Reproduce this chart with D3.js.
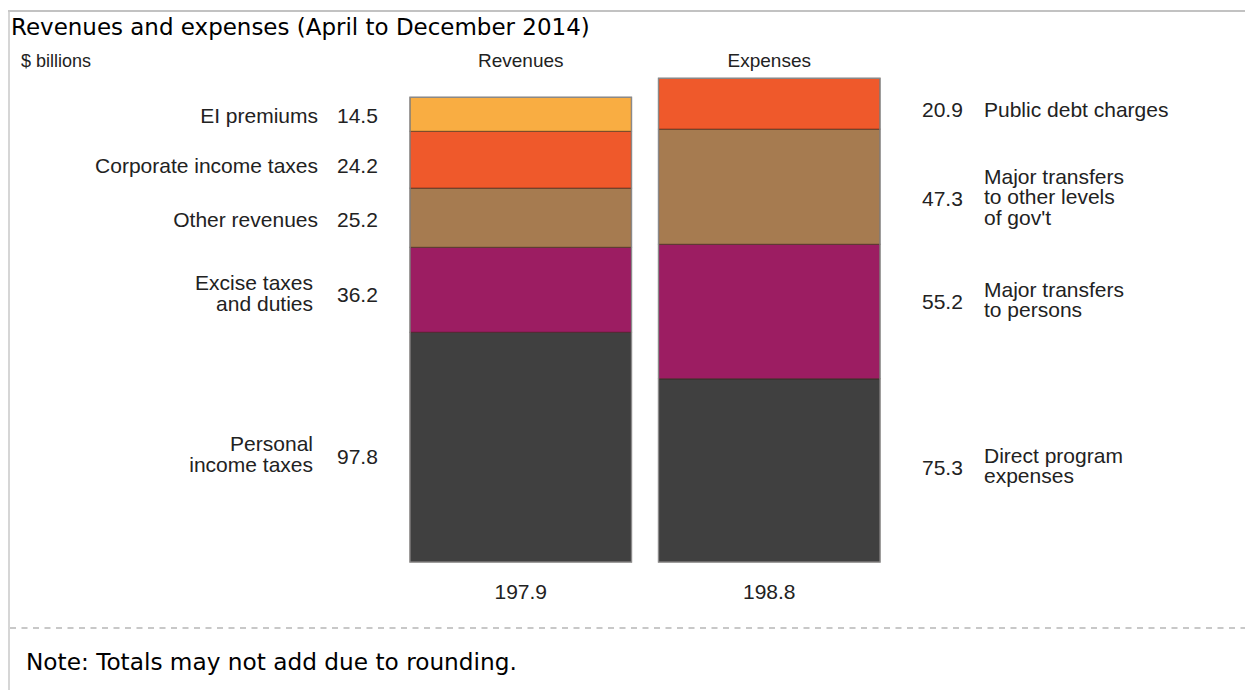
<!DOCTYPE html>
<html>
<head>
<meta charset="utf-8">
<script src="https://cdn.jsdelivr.net/npm/d3@7/dist/d3.min.js"></script>
<style>
  html, body { margin: 0; padding: 0; background: #fff; }
  svg { display: block; }
</style>
</head>
<body>
<svg id="chart" width="1245" height="690"></svg>
<script>
// ---------------- DATA ----------------
const columns = ["Revenues", "Expenses"];
const columnTotals = ["197.9", "198.8"];

// stacked bottom -> top
const revenueCategories = [
  ["Personal", "income taxes"],
  ["Excise taxes", "and duties"],
  ["Other revenues"],
  ["Corporate income taxes"],
  ["EI premiums"]
];
const revenueValues = [97.8, 36.2, 25.2, 24.2, 14.5];

const expenseCategories = [
  ["Direct program", "expenses"],
  ["Major transfers", "to persons"],
  ["Major transfers", "to other levels", "of gov't"],
  ["Public debt charges"]
];
const expenseValues = [75.3, 55.2, 47.3, 20.9];

const titleText = "Revenues and expenses (April to December 2014)";
const unitLabel = "$ billions";
const noteText = "Note: Totals may not add due to rounding.";

// ---------------- STYLE / LAYOUT ----------------
const revenueColors = ["#404040", "#9c1d62", "#a67b50", "#ef592b", "#f9ad42"];
const expenseColors = ["#404040", "#9c1d62", "#a67b50", "#ef592b"];
const revLabelNudge = [7, 3, 2, 6, 1];
const expLabelNudge = [-5, -12, 10, 6];

const svg = d3.select("#chart");
const W = 1245, H = 690;
const labelFont = "'Liberation Sans', Arial, Helvetica, sans-serif";
const titleFont = "'DejaVu Sans', Verdana, sans-serif";
const textColor = "#222";
const fs = 21;
const lineH = 20.5;

// frame
svg.append("rect").attr("width", W).attr("height", H).attr("fill", "#fff");
svg.append("line").attr("x1", 8).attr("x2", W).attr("y1", 11).attr("y2", 11)
  .attr("stroke", "#c2c2c2").attr("stroke-width", 2);
svg.append("line").attr("x1", 9).attr("x2", 9).attr("y1", 10).attr("y2", H)
  .attr("stroke", "#c8c8c8").attr("stroke-width", 1.5);
svg.append("line").attr("x1", 10).attr("x2", W).attr("y1", 628).attr("y2", 628)
  .attr("stroke", "#c8c8c8").attr("stroke-width", 2).attr("stroke-dasharray", "6,5.5");

// title
const title = svg.append("text").attr("x", 11).attr("y", 35)
  .attr("font-family", titleFont).attr("font-size", 20).attr("fill", "#000")
  .text(titleText);
{
  const w = title.node().getComputedTextLength();
  title.attr("font-size", 20 * 579 / w);
}
const note = svg.append("text").attr("x", 26).attr("y", 670)
  .attr("font-family", titleFont).attr("font-size", 20).attr("fill", "#000")
  .text(noteText);
{
  const w = note.node().getComputedTextLength();
  note.attr("font-size", 20 * 491 / w);
}

// unit label
svg.append("text").attr("x", 21).attr("y", 67)
  .attr("font-family", labelFont).attr("font-size", 18).attr("fill", textColor)
  .text(unitLabel);

// x scale for columns
const x = d3.scaleBand().domain(columns).range([410, 880]).paddingInner(0.1087);

// per-column y scales (as drawn in the reference)
const baseY = 562;
const yRev = d3.scaleLinear().domain([0, d3.sum(revenueValues)]).range([baseY, 97.3]);
const yExp = d3.scaleLinear().domain([0, d3.sum(expenseValues)]).range([baseY, 78.3]);

function stackData(values, cats, colors) {
  let acc = 0;
  return values.map((v, i) => {
    const d = { v, y0: acc, y1: acc + v, cat: cats[i], color: colors[i], i };
    acc += v;
    return d;
  });
}
const revStack = stackData(revenueValues, revenueCategories, revenueColors);
const expStack = stackData(expenseValues, expenseCategories, expenseColors);

function drawColumn(name, stack, y) {
  const g = svg.append("g");
  g.selectAll("rect.seg").data(stack).join("rect")
    .attr("class", "seg")
    .attr("x", x(name)).attr("width", x.bandwidth())
    .attr("y", d => y(d.y1)).attr("height", d => y(d.y0) - y(d.y1))
    .attr("fill", d => d.color)
    .attr("stroke", "rgba(40,20,10,0.45)").attr("stroke-width", 1.2);
  const top = y(d3.max(stack, d => d.y1));
  g.append("rect").attr("x", x(name)).attr("width", x.bandwidth())
    .attr("y", top).attr("height", y(0) - top)
    .attr("fill", "none").attr("stroke", "#8a8a8a").attr("stroke-width", 1.3);
  // header
  svg.append("text").attr("x", x(name) + x.bandwidth() / 2).attr("y", 67)
    .attr("text-anchor", "middle").attr("font-family", labelFont).attr("font-size", 19)
    .attr("fill", textColor).text(name);
}
drawColumn("Revenues", revStack, yRev);
drawColumn("Expenses", expStack, yExp);

// totals
svg.selectAll("text.total").data(columns).join("text")
  .attr("class", "total")
  .attr("x", d => x(d) + x.bandwidth() / 2).attr("y", 599)
  .attr("text-anchor", "middle").attr("font-family", labelFont).attr("font-size", fs)
  .attr("fill", textColor).text((d, i) => columnTotals[i]);

// labels
function drawLabels(stack, y, nudge, side) {
  stack.forEach((d, k) => {
    const cy = (y(d.y0) + y(d.y1)) / 2 + nudge[k];
    const n = d.cat.length;
    const capMid = fs * 0.36;
    // value
    svg.append("text")
      .attr("x", side === "left" ? 337 : 922)
      .attr("y", cy + capMid + (n > 1 ? 2 : 0))
      .attr("font-family", labelFont).attr("font-size", fs).attr("fill", textColor)
      .text(d3.format(".1f")(d.v));
    // category lines
    const t = svg.append("text")
      .attr("font-family", labelFont).attr("font-size", fs).attr("fill", textColor)
      .attr("text-anchor", side === "left" ? "end" : "start");
    d.cat.forEach((line, j) => {
      t.append("tspan")
        .attr("x", side === "left" ? (n > 1 ? 313 : 318) : 984)
        .attr("y", cy + capMid + (j - (n - 1) / 2) * lineH)
        .text(line);
    });
  });
}
drawLabels(revStack, yRev, revLabelNudge, "left");
drawLabels(expStack, yExp, expLabelNudge, "right");
</script>
</body>
</html>
